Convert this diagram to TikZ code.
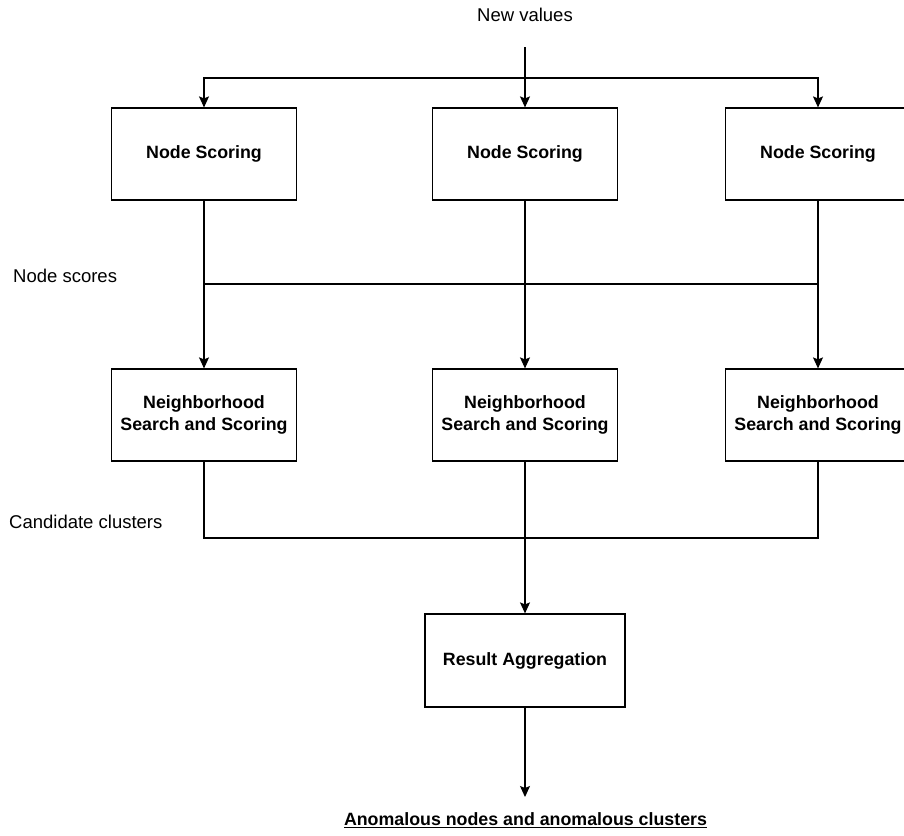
\documentclass[tikz,border=0pt]{standalone}
\usepackage{fontspec}
\setmainfont{Liberation Sans}
\usetikzlibrary{arrows.meta}
\begin{document}
\begin{tikzpicture}[x=1pt,y=-1pt,
  box/.style={draw, line width=1.2pt, minimum width=185pt, minimum height=92pt, inner sep=0pt,
    align=center, font=\fontsize{17.8}{22.7}\selectfont\bfseries},
  lbl/.style={inner sep=0pt, font=\fontsize{18.5}{22}\selectfont},
  wire/.style={line width=1.2pt},
  arr/.style={line width=1.2pt, -{Stealth[length=11pt,width=10pt,inset=2pt]}}]
\useasboundingbox (0,0) rectangle (904,835);
% texts
\node[lbl] (nv) at (525,15) {New values};
\node[lbl, anchor=west] (nsc) at (13,276) {Node scores};
\node[lbl, anchor=west] (cc) at (9,522) {Candidate clusters};
\node[lbl, font=\fontsize{17.8}{22}\selectfont\bfseries] (out) at (525.5,820) {\underline{Anomalous nodes and anomalous clusters}};
% boxes
\node[box] (ns1) at (204,154) {Node Scoring};
\node[box] (ns2) at (525,154) {Node Scoring};
\node[box] (ns3) at (818,154) {Node Scoring};
\node[box] (nh1) at (204,415) {Neighborhood\\Search and Scoring};
\node[box] (nh2) at (525,415) {Neighborhood\\Search and Scoring};
\node[box] (nh3) at (818,415) {Neighborhood\\Search and Scoring};
\node[box, minimum width=200pt, minimum height=93pt] (ra) at (525,660.5) {Result Aggregation};
% coordinates
\coordinate (src) at (525,47);
\coordinate (jt) at (525,78);
\coordinate (end) at (525,797);
% top connectors
\draw[arr] (src) -- (ns2.north);
\draw[arr] (jt) -| (ns1.north);
\draw[arr] (jt) -| (ns3.north);
% node scores
\draw[arr] (ns1.south) -- (nh1.north);
\draw[arr] (ns2.south) -- (nh2.north);
\draw[arr] (ns3.south) -- (nh3.north);
\draw[wire] (ns1.south |- 0,284) -- (ns3.south |- 0,284);
% candidate clusters
\draw[arr] (nh2.south) -- (ra.north);
\draw[wire] (nh1.south) |- (nh2.south |- 0,538);
\draw[wire] (nh3.south) |- (nh2.south |- 0,538);
% output
\draw[arr] (ra.south) -- (end);
\end{tikzpicture}
\end{document}
